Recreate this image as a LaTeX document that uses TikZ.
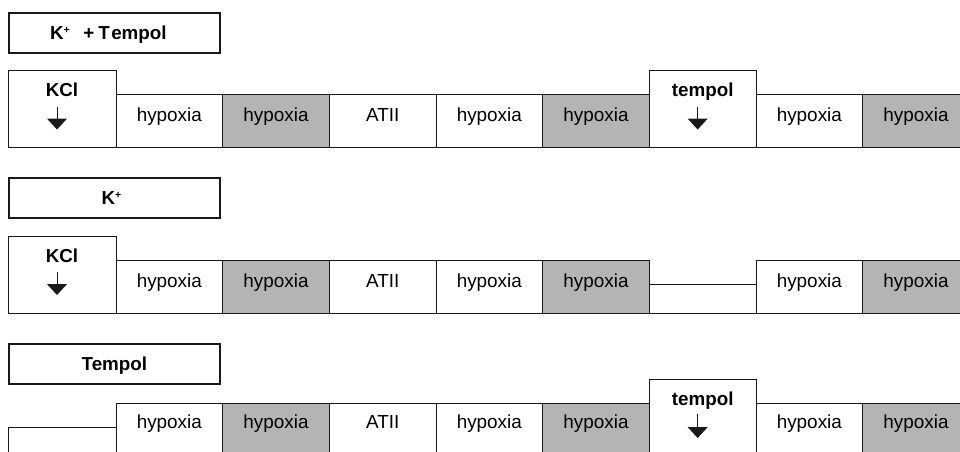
\documentclass[tikz,border=0pt]{standalone}
\usepackage{fontspec}
\setmainfont{Liberation Sans}
\usetikzlibrary{arrows.meta}
\definecolor{cellgray}{RGB}{180,180,180}
\definecolor{linec}{RGB}{25,25,25}
\newcommand{\supplus}{\raisebox{6.5pt}{\fontsize{10.5}{10.5}\selectfont +}}
\tikzset{
  cellbox/.style={draw=linec, line width=1pt, inner sep=0pt, outer sep=0pt, anchor=north west, minimum width=106.67pt},
  graycell/.style={cellbox, fill=cellgray},
  titlebox/.style={draw=linec, line width=1.8pt, inner sep=0pt, outer sep=0pt, anchor=north west, minimum width=211pt, minimum height=40pt},
  lbl/.style={inner sep=0pt, anchor=base, font=\fontsize{18.9}{22}\selectfont},
  blbl/.style={lbl, font=\fontsize{18.8}{22}\selectfont\bfseries},
  downarr/.style={draw=linec, line width=1pt, -{Triangle[width=20pt,length=11pt]}}
}
\begin{document}
\begin{tikzpicture}[x=1pt,y=-1pt]
\useasboundingbox (0,0) rectangle (960,451);
\clip (0,0) rectangle (960,451);
% ---------------- Row 1 ----------------
\node[titlebox] (t1) at (8.9,12.9) {};
\node[blbl, anchor=base west] (t1txt) at ([xshift=-64.5pt,yshift=-26.6pt]t1.north) {K\supplus\hspace{13.5pt}+\hspace{4pt}T\hspace{1.5pt}empol};
\node[cellbox, minimum width=108pt, minimum height=77pt] (a1) at (8,70.5) {};
\node[cellbox, minimum height=53.5pt] (a2) at (116,94) {};
\node[graycell, minimum height=53.5pt] (a3) at (222.67,94) {};
\node[cellbox, minimum height=53.5pt] (a4) at (329.33,94) {};
\node[cellbox, minimum height=53.5pt] (a5) at (436,94) {};
\node[graycell, minimum height=53.5pt] (a6) at (542.67,94) {};
\node[cellbox, minimum height=77pt] (a7) at (649.33,70.5) {};
\node[cellbox, minimum height=53.5pt] (a8) at (756,94) {};
\node[graycell, minimum width=110pt, minimum height=53.5pt] (a9) at (862.67,94) {};
\node[blbl] (a1t) at ([yshift=-26pt]a1.north) {KCl};
\node[lbl] (a2t) at ([yshift=-27pt]a2.north) {hypoxia};
\node[lbl] (a3t) at ([yshift=-27pt]a3.north) {hypoxia};
\node[lbl] (a4t) at ([yshift=-27pt]a4.north) {ATII};
\node[lbl] (a5t) at ([yshift=-27pt]a5.north) {hypoxia};
\node[lbl] (a6t) at ([yshift=-27pt]a6.north) {hypoxia};
\node[blbl] (a7t) at ([yshift=-26pt]a7.north) {tempol};
\node[lbl] (a8t) at ([yshift=-27pt]a8.north) {hypoxia};
\node[lbl] (a9t) at ([xshift=-1.7pt,yshift=-27pt]a9.north) {hypoxia};
\coordinate (a1s) at ([xshift=-5pt,yshift=-36pt]a1.north);
\coordinate (a1e) at ([xshift=-5pt,yshift=-59pt]a1.north);
\coordinate (a7s) at ([xshift=-5pt,yshift=-36pt]a7.north);
\coordinate (a7e) at ([xshift=-5pt,yshift=-59pt]a7.north);
\draw[downarr] (a1s) -- (a1e);
\draw[downarr] (a7s) -- (a7e);
% ---------------- Row 2 ----------------
\node[titlebox] (t2) at (8.9,177.9) {};
\node[blbl] (t2txt) at ([xshift=-3pt,yshift=-26.6pt]t2.north) {K\supplus};
\node[cellbox, minimum width=108pt, minimum height=77pt] (b1) at (8,236) {};
\node[cellbox, minimum height=53pt] (b2) at (116,260) {};
\node[graycell, minimum height=53pt] (b3) at (222.67,260) {};
\node[cellbox, minimum height=53pt] (b4) at (329.33,260) {};
\node[cellbox, minimum height=53pt] (b5) at (436,260) {};
\node[graycell, minimum height=53pt] (b6) at (542.67,260) {};
\node[cellbox, minimum height=29pt] (b7) at (649.33,284) {};
\node[cellbox, minimum height=53pt] (b8) at (756,260) {};
\node[graycell, minimum width=110pt, minimum height=53pt] (b9) at (862.67,260) {};
\node[blbl] (b1t) at ([yshift=-26pt]b1.north) {KCl};
\node[lbl] (b2t) at ([yshift=-27pt]b2.north) {hypoxia};
\node[lbl] (b3t) at ([yshift=-27pt]b3.north) {hypoxia};
\node[lbl] (b4t) at ([yshift=-27pt]b4.north) {ATII};
\node[lbl] (b5t) at ([yshift=-27pt]b5.north) {hypoxia};
\node[lbl] (b6t) at ([yshift=-27pt]b6.north) {hypoxia};
\node[lbl] (b8t) at ([yshift=-27pt]b8.north) {hypoxia};
\node[lbl] (b9t) at ([xshift=-1.7pt,yshift=-27pt]b9.north) {hypoxia};
\coordinate (b1s) at ([xshift=-5pt,yshift=-36pt]b1.north);
\coordinate (b1e) at ([xshift=-5pt,yshift=-59pt]b1.north);
\draw[downarr] (b1s) -- (b1e);
% ---------------- Row 3 ----------------
\node[titlebox] (t3) at (8.9,343.9) {};
\node[blbl] (t3txt) at ([yshift=-26.6pt]t3.north) {Tempol};
\node[cellbox, minimum width=108pt, minimum height=40pt] (c1) at (8,427) {};
\node[cellbox, minimum height=60pt] (c2) at (116,403) {};
\node[graycell, minimum height=60pt] (c3) at (222.67,403) {};
\node[cellbox, minimum height=60pt] (c4) at (329.33,403) {};
\node[cellbox, minimum height=60pt] (c5) at (436,403) {};
\node[graycell, minimum height=60pt] (c6) at (542.67,403) {};
\node[cellbox, minimum height=84pt] (c7) at (649.33,379) {};
\node[cellbox, minimum height=60pt] (c8) at (756,403) {};
\node[graycell, minimum width=110pt, minimum height=60pt] (c9) at (862.67,403) {};
\node[lbl] (c2t) at ([yshift=-25.5pt]c2.north) {hypoxia};
\node[lbl] (c3t) at ([yshift=-25.5pt]c3.north) {hypoxia};
\node[lbl] (c4t) at ([yshift=-25.5pt]c4.north) {ATII};
\node[lbl] (c5t) at ([yshift=-25.5pt]c5.north) {hypoxia};
\node[lbl] (c6t) at ([yshift=-25.5pt]c6.north) {hypoxia};
\node[blbl] (c7t) at ([yshift=-26pt]c7.north) {tempol};
\node[lbl] (c8t) at ([yshift=-25.5pt]c8.north) {hypoxia};
\node[lbl] (c9t) at ([xshift=-1.7pt,yshift=-25.5pt]c9.north) {hypoxia};
\coordinate (c7s) at ([xshift=-5pt,yshift=-35pt]c7.north);
\coordinate (c7e) at ([xshift=-5pt,yshift=-59pt]c7.north);
\draw[downarr] (c7s) -- (c7e);
\end{tikzpicture}
\end{document}
